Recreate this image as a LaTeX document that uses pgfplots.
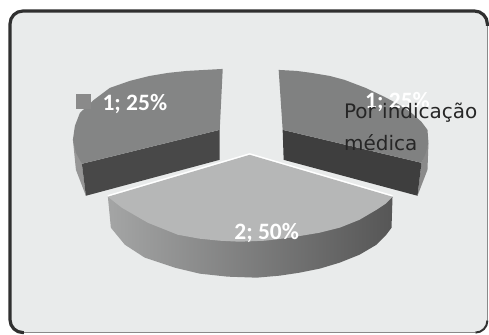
\documentclass[border=0pt]{standalone}
\usepackage{pgfplots}
\pgfplotsset{compat=1.18}
\usepackage{fontspec}
\setmainfont{Carlito}
\newfontfamily\notefont{DejaVu Sans}
\definecolor{panel}{HTML}{E9EBEB}
\definecolor{frameDark}{HTML}{303030}
\definecolor{frameSoft}{HTML}{8A8A8A}
\definecolor{sliceTop}{HTML}{848585}
\definecolor{sliceTopR}{HTML}{808181}
\definecolor{wallL}{HTML}{484848}
\definecolor{wallR}{HTML}{3E3E3E}
\definecolor{midTop}{HTML}{B6B7B7}
\definecolor{midWallA}{HTML}{A4A5A5}
\definecolor{midWallB}{HTML}{7C7E7D}
\definecolor{midWallC}{HTML}{565656}
\begin{document}
\begin{tikzpicture}
\begin{axis}[
  scale only axis, width=489pt, height=335pt,
  xmin=0, xmax=489, ymin=0, ymax=335, y dir=reverse,
  axis lines=none, clip=false,
]
% page area and chart frame
\fill[white] (axis cs:0,0) rectangle (axis cs:489,335);
\fill[panel, rounded corners=13pt] (axis cs:10,11) rectangle (axis cs:488,333);
\draw[frameSoft, line width=1.5pt] (axis cs:24,333) -- (axis cs:476,333);
\draw[frameSoft, line width=1.5pt] (axis cs:488,25) -- (axis cs:488,321);
\draw[frameDark, line width=3.2pt, rounded corners=13pt] (axis cs:24,333) -- (axis cs:10,333) -- (axis cs:10,11) -- (axis cs:488,11) -- (axis cs:488,26);
\draw[frameDark, line width=2pt, rounded corners=12pt] (axis cs:476,333) -- (axis cs:488,333) -- (axis cs:488,321);

% left slice (25%)
\addplot[draw=none, fill=frameSoft!90!white] coordinates {(73,140) (82,164) (86,196) (76,170)} --cycle;
\addplot[draw=none, fill=wallL] coordinates {(220,130) (82,164) (86,196) (220,160)} --cycle;
\addplot[draw=none, fill=sliceTop] coordinates {(223,69) (220,130) (82,164) (76,153) (73,140) (75,126) (80,113) (94,100) (110,88) (130,81) (150,76) (168,73) (187,71) (205,70)} --cycle;

% right slice (25%)
\addplot[draw=none, fill=frameSoft] coordinates {(429,143) (422,163) (418,196) (428,170)} --cycle;
\addplot[draw=none, fill=wallR] coordinates {(283,130) (422,163) (418,196) (284,160)} --cycle;
\addplot[draw=none, fill=sliceTopR] coordinates {(279,70) (297,71) (312,73) (330,76) (345,80) (366,88) (385,97) (400,105) (412,113) (422,122) (428,130) (429,143) (426,154) (422,163) (283,130)} --cycle;

% central slice (50%): curved wall, then top face
\addplot[draw=none, left color=midWallA, middle color=midWallB, right color=midWallC] coordinates {(108,197) (111,228) (125,245) (145,258) (175,268) (200,274) (228,277) (257,278) (280,276) (300,273) (320,269) (340,263) (360,255) (377,245) (386,236) (392,228) (393,197)} --cycle;
\addplot[draw=none, fill=midTop] coordinates {(250,155) (393,197) (386,204) (377,210) (360,220) (340,228) (320,233) (290,238) (265,241) (240,242) (220,241) (200,239) (178,235) (148,223) (122,208) (108,197)} --cycle;
\addplot[white, line width=1.3pt] coordinates {(108,196) (250,154) (393,196)};

% data labels
\node[text=white, font=\fontsize{23.5}{23.5}\bfseries\selectfont] at (axis cs:135,104) {1; 25\%};
\node[text=white, font=\fontsize{23.5}{23.5}\bfseries\selectfont] at (axis cs:398,102) {1; 25\%};
\node[text=white, font=\fontsize{23.5}{23.5}\bfseries\selectfont] at (axis cs:267,233) {2; 50\%};
\addplot[only marks, color=frameSoft, mark=square*, mark size=7pt, mark options={draw=frameSoft, fill=frameSoft}] coordinates {(83.5,101)};
\node[anchor=west, text=black!85, font=\notefont\fontsize{20}{20}\selectfont] at (axis cs:341,113) {Por indicação};
\node[anchor=west, text=black!85, font=\notefont\fontsize{20}{20}\selectfont] at (axis cs:341,143) {médica};
\end{axis}
\end{tikzpicture}
\end{document}
